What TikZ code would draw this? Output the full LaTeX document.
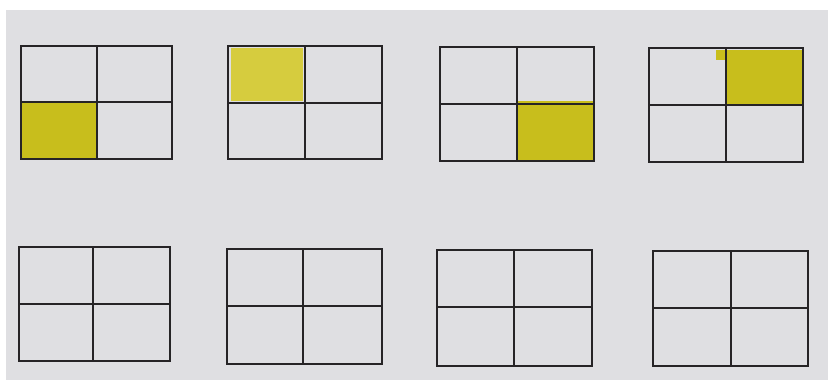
\documentclass[tikz,border=0pt]{standalone}
\usetikzlibrary{backgrounds}
\definecolor{paper}{RGB}{223,223,226}
\definecolor{crayon}{RGB}{200,190,28}
\definecolor{crayonlt}{RGB}{214,204,62}
\definecolor{ink}{RGB}{38,36,38}

\begin{document}
\begin{tikzpicture}[
  x=0.03cm, y=-0.03cm,
  gridline/.style={draw=ink, line width=0.05cm, line join=miter},
  shade/.style={fill=crayon},
  shadelt/.style={fill=crayonlt}
]
% photo with white strips along top and left
\fill[white] (0,0) rectangle (828,380);
\fill[paper] (6,10) rectangle (828,380);
\useasboundingbox (0,0) rectangle (828,380);

% coloured cells (top row)
\fill[shade] (21,103) rectangle (96,158);
\fill[shadelt] (231,48) rectangle (303,101);
\fill[shade] (518,101) rectangle (594,160);
\fill[shade] (726,50) rectangle (802,104);
\fill[shade] (716,50) rectangle (727,60);

% grids: left/top/right/bottom/middle x/middle y
\foreach \l/\t/\r/\b/\mx/\my in {
  21/46/172/159/97/102, 228/46/382/159/305/103,
  440/47/594/161/517/104, 649/48/803/162/726/105,
  19/247/170/361/93/304, 227/249/382/364/303/306,
  437/250/592/366/514/307, 653/251/808/366/731/308}
{
  \draw[gridline] (\l,\t) rectangle (\r,\b);
  \draw[gridline] (\mx,\t) -- (\mx,\b);
  \draw[gridline] (\l,\my) -- (\r,\my);
}
\end{tikzpicture}
\end{document}
